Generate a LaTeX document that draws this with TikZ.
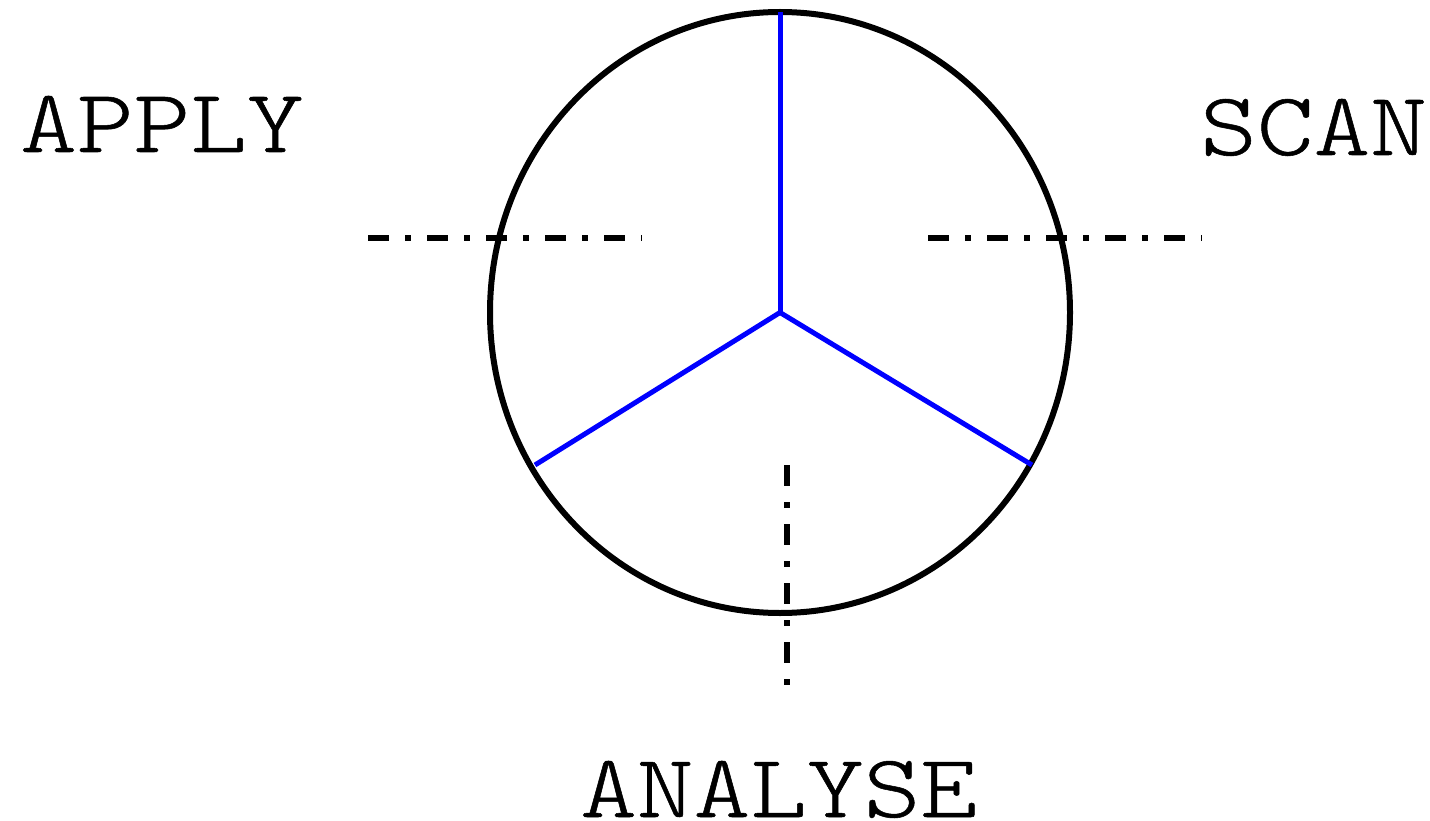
\documentclass[tikz,border=0pt]{standalone}
\usepackage{fontspec}
\newfontfamily\labelfont[FakeStretch=1.20, FakeBold=0.6]{Latin Modern Mono Light}
\tikzset{
  ring/.style={draw=black, line width=6pt},
  spoke/.style={draw=blue, line width=5pt},
  axisline/.style={draw=black, line width=6pt, dash pattern=on 21pt off 16pt on 6pt off 16pt},
  phase/.style={inner sep=0pt, anchor=base west, text depth=0pt, font=\labelfont\fontsize{90}{94}\selectfont}
}
\begin{document}
\begin{tikzpicture}[x=1pt,y=-1pt]
\useasboundingbox (0,0) rectangle (1430,821);
\coordinate (c) at (780,312.5);
\draw[ring] (c) ellipse [x radius=290, y radius=300.5];
\coordinate (top) at (780,12);
\coordinate (bl) at (535,465);
\coordinate (br) at (1032,465);
\draw[spoke] (c) -- (top);
\draw[spoke] (c) -- (bl);
\draw[spoke] (c) -- (br);
\coordinate (l1) at (368,238);
\coordinate (l2) at (642,238);
\coordinate (r1) at (928,238);
\coordinate (r2) at (1202,238);
\coordinate (v1) at (787,465);
\coordinate (v2) at (787,689);
\draw[axisline] (l1) -- (l2);
\draw[axisline] (r1) -- (r2);
\draw[axisline] (v1) -- (v2);
\node[phase] (apply) at (20,152) {APPLY};
\node[phase] (scan) at (1200,155) {SCAN};
\node[phase] (analyse) at (580,817) {ANALYSE};
\end{tikzpicture}
\end{document}
